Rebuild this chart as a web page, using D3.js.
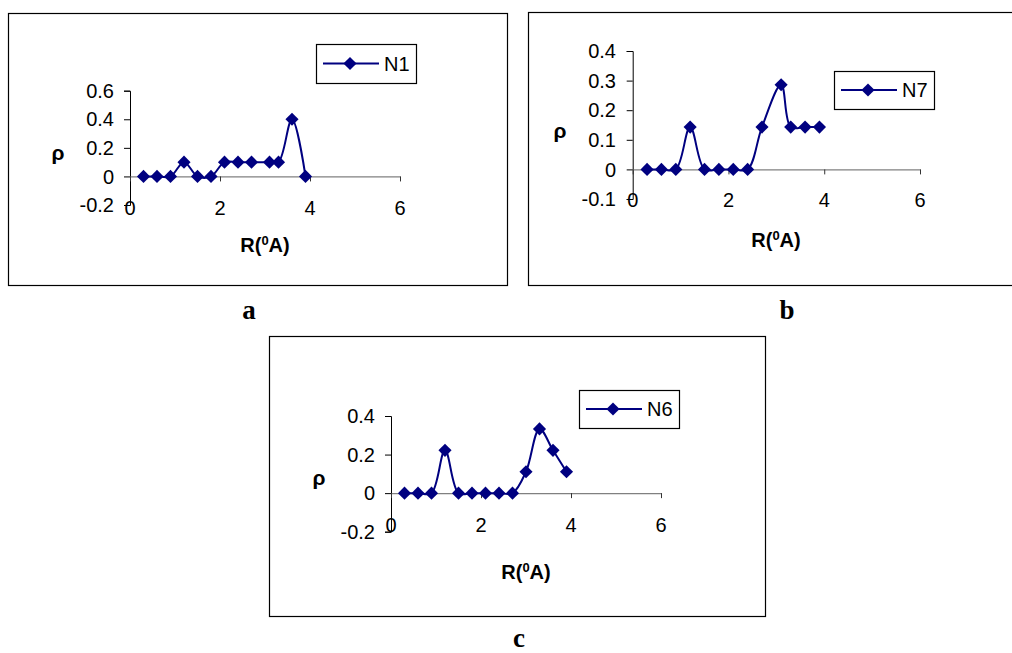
<!DOCTYPE html>
<html>
<head>
<meta charset="utf-8">
<script src="https://cdn.jsdelivr.net/npm/d3@7"></script>
<style>
  body { margin: 0; background: #fff; }
  svg { display: block; }
  text { fill: #000; }
</style>
</head>
<body>
<div id="chart"></div>
<script>
// data
var xTicks = [0, 2, 4, 6];

var xN1 = [0.3, 0.6, 0.9, 1.2, 1.5, 1.8, 2.1, 2.4, 2.7, 3.1, 3.3, 3.6, 3.9];
var rhoN1 = [0, 0, 0, 0.1, 0, 0, 0.1, 0.1, 0.1, 0.1, 0.1, 0.4, 0];
var yTicksN1 = [-0.2, 0, 0.2, 0.4, 0.6];

var xN7 = [0.3, 0.6, 0.9, 1.2, 1.5, 1.8, 2.1, 2.4, 2.7, 3.1, 3.3, 3.6, 3.9];
var rhoN7 = [0, 0, 0, 0.143, 0, 0, 0, 0, 0.143, 0.286, 0.143, 0.143, 0.143];
var yTicksN7 = [-0.1, 0, 0.1, 0.2, 0.3, 0.4];

var xN6 = [0.3, 0.6, 0.9, 1.2, 1.5, 1.8, 2.1, 2.4, 2.7, 3.0, 3.3, 3.6, 3.9];
var rhoN6 = [0, 0, 0, 0.222, 0, 0, 0, 0, 0, 0.111, 0.333, 0.222, 0.111];
var yTicksN6 = [-0.2, 0, 0.2, 0.4];

var W = 1012, H = 653;
var navy = "#000080";
var sans = "'Liberation Sans', Arial, sans-serif";
var serif = "'Liberation Serif', 'Times New Roman', serif";

var svg = d3.select("#chart").append("svg")
	.attr("width", W)
	.attr("height", H)
	.style("font-family", sans);

function fmt(d) {
	return d === 0 ? "0" : String(Math.round(d * 10) / 10);
}

function drawPanel(p) {
	var g = svg.append("g");

	// outer frame
	g.append("rect")
		.attr("x", p.box[0] + 0.5).attr("y", p.box[1] + 0.5)
		.attr("width", p.box[2] - p.box[0]).attr("height", p.box[3] - p.box[1])
		.attr("fill", "none").attr("stroke", "#000").attr("stroke-width", 1.2);

	var x = d3.scaleLinear().domain([0, 6]).range(p.xr);
	var y = d3.scaleLinear().domain(d3.extent(p.yTicks)).range(p.yr);

	// y axis
	var yAx = g.append("g").attr("transform", "translate(" + p.xr[0] + ",0)")
		.call(d3.axisLeft(y).tickValues(p.yTicks).tickSize(6).tickFormat(""));
	yAx.select(".domain").attr("stroke", "#000");
	yAx.selectAll(".tick line").attr("stroke", "#000");

	g.selectAll(".ylab").data(p.yTicks).enter().append("text")
		.attr("x", p.ylabX)
		.attr("y", function(d) { return y(d); })
		.attr("dy", "0.36em")
		.attr("text-anchor", "end")
		.attr("font-size", 20)
		.text(fmt);

	// x axis at rho = 0
	var xAx = g.append("g").attr("transform", "translate(0," + y(0) + ")")
		.call(d3.axisBottom(x).tickValues(xTicks).tickSize(5).tickSizeOuter(0).tickFormat(""));
	xAx.select(".domain").attr("stroke", "#808080").attr("stroke-width", 1.3);
	xAx.selectAll(".tick line").attr("stroke", "#333");

	g.selectAll(".xlab").data(xTicks).enter().append("text")
		.attr("x", function(d) { return x(d); })
		.attr("y", p.xlabY)
		.attr("dy", "0.36em")
		.attr("text-anchor", "middle")
		.attr("font-size", 20)
		.text(fmt);

	// titles
	var t = g.append("text")
		.attr("x", p.titleX).attr("y", p.titleY)
		.attr("dy", "0.36em")
		.attr("text-anchor", "middle")
		.attr("font-size", 20).attr("font-weight", "bold");
	t.append("tspan").text("R(");
	t.append("tspan").attr("font-size", 13).attr("dy", "-0.55em").text("0");
	t.append("tspan").attr("dy", "0.36em").text("A)");

	g.append("text")
		.attr("x", p.rhoPos[0]).attr("y", p.rhoPos[1])
		.attr("dy", "0.36em")
		.attr("text-anchor", "middle")
		.attr("font-size", 21).attr("font-weight", "bold")
		.text("ρ");

	// series
	var pts = p.xs.map(function(d, i) { return [d, p.ys[i]]; });
	var line = d3.line()
		.x(function(d) { return x(d[0]); })
		.y(function(d) { return y(d[1]); })
		.curve(d3.curveCatmullRom);

	g.append("path")
		.attr("d", line(pts))
		.attr("fill", "none")
		.attr("stroke", navy)
		.attr("stroke-width", 2);

	var diamond = d3.symbol().type(d3.symbolDiamond2).size(110);
	g.selectAll(".pt").data(pts).enter().append("path")
		.attr("transform", function(d) { return "translate(" + x(d[0]) + "," + y(d[1]) + ")"; })
		.attr("d", diamond)
		.attr("fill", navy);

	// legend
	var L = p.legend;
	g.append("rect")
		.attr("x", L[0] + 0.5).attr("y", L[1] + 0.5)
		.attr("width", L[2] - L[0]).attr("height", L[3] - L[1])
		.attr("fill", "#fff").attr("stroke", "#000").attr("stroke-width", 1.2);
	var ly = (L[1] + L[3]) / 2;
	g.append("line")
		.attr("x1", L[0] + 7).attr("x2", L[0] + 63)
		.attr("y1", ly).attr("y2", ly)
		.attr("stroke", navy).attr("stroke-width", 2);
	g.append("path")
		.attr("transform", "translate(" + (L[0] + 34) + "," + ly + ")")
		.attr("d", diamond)
		.attr("fill", navy);
	g.append("text")
		.attr("x", L[0] + 68).attr("y", ly)
		.attr("dy", "0.36em")
		.attr("font-size", 20)
		.text(p.name);

	// panel letter
	svg.append("text")
		.attr("x", p.letter[0]).attr("y", p.letter[1])
		.attr("dy", "0.22em")
		.attr("text-anchor", "middle")
		.style("font-family", serif)
		.attr("font-size", 27).attr("font-weight", "bold")
		.text(p.letterText);
}

drawPanel({
	name: "N1", xs: xN1, ys: rhoN1, yTicks: yTicksN1,
	box: [8, 13, 507, 285],
	xr: [130, 400], yr: [205, 90.7],
	ylabX: 114, xlabY: 208,
	titleX: 265, titleY: 245, rhoPos: [58, 152],
	legend: [316, 44, 416, 83],
	letter: [249, 313], letterText: "a"
});

drawPanel({
	name: "N7", xs: xN7, ys: rhoN7, yTicks: yTicksN7,
	box: [528, 12, 1016, 285],
	xr: [632.7, 920], yr: [199, 51],
	ylabX: 616, xlabY: 200,
	titleX: 776, titleY: 240, rhoPos: [560, 130],
	legend: [834, 71, 934, 109],
	letter: [787, 313], letterText: "b"
});

drawPanel({
	name: "N6", xs: xN6, ys: rhoN6, yTicks: yTicksN6,
	box: [269, 336, 765, 616],
	xr: [391, 661], yr: [531.7, 416],
	ylabX: 375, xlabY: 525,
	titleX: 526, titleY: 572, rhoPos: [319, 477],
	legend: [579, 390, 679, 428],
	letter: [519, 641], letterText: "c"
});
</script>
</body>
</html>
